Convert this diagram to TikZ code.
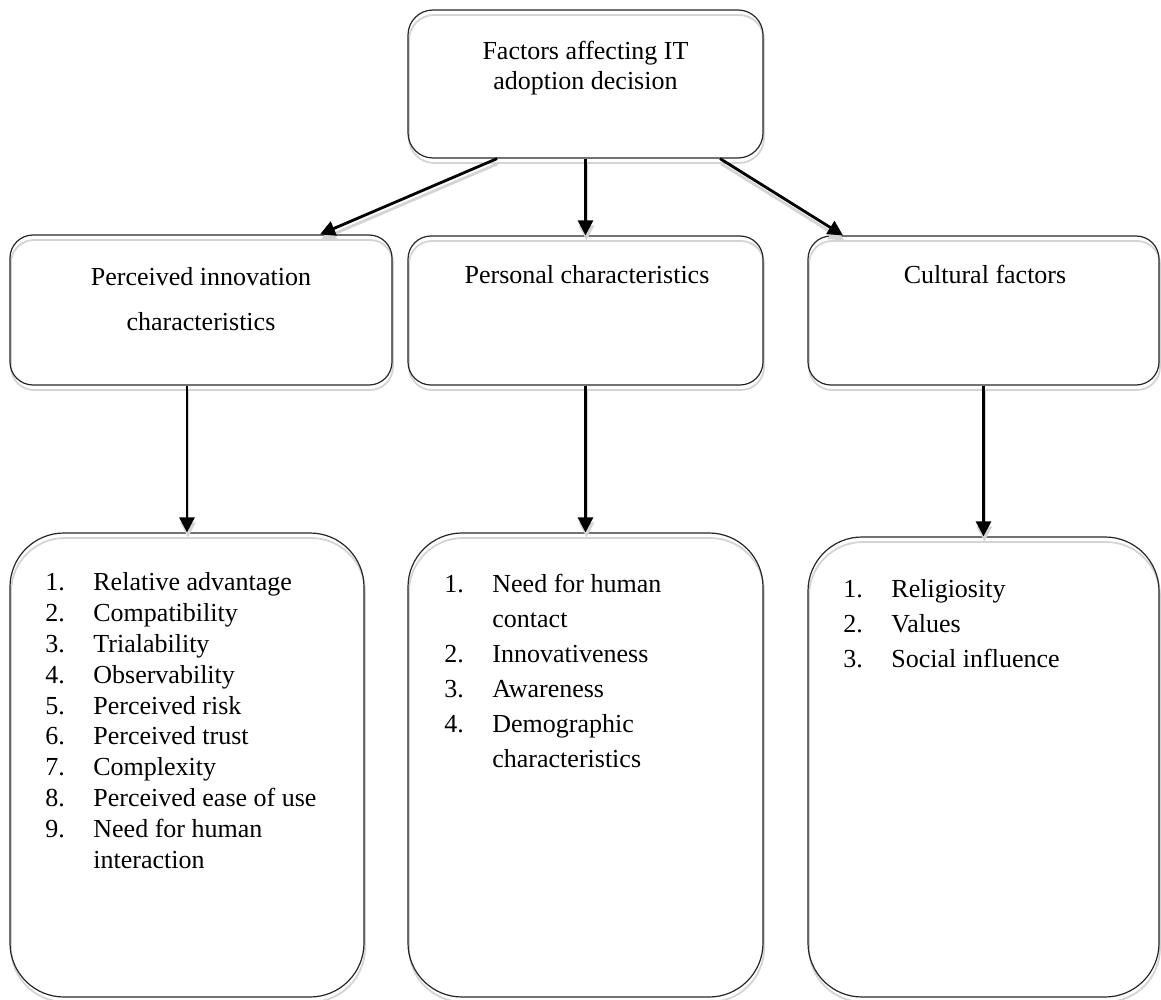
\documentclass[tikz,border=0pt]{standalone}
\usepackage{fontspec}
\setmainfont{Liberation Serif}
\usetikzlibrary{arrows.meta,calc}
\newcommand{\itm}[1]{\makebox[24pt][l]{#1}}
\newcommand{\cont}{\hspace*{24pt}}
\begin{document}
\begin{tikzpicture}[x=0.5pt,y=-0.5pt,
  box/.style={draw=black!85, line width=0.6pt, rounded corners=#1, inner sep=0pt,
    preaction={draw=black!17, line width=0.9pt, transform canvas={shift={(0.5pt,-2.5pt)}}}},
  lbl/.style={inner sep=0pt, align=center, font=\fontsize{13pt}{15.4pt}\selectfont},
  lst/.style={inner sep=0pt, align=left, anchor=base west, font=\fontsize{13pt}{#1}\selectfont},
  arr/.style={line width=1.4pt, -{Triangle[length=7.5pt,width=7.5pt]}},
  arrshadow/.style={draw=black!17, line width=1.4pt, -{Triangle[length=7.5pt,width=7.5pt]},
    transform canvas={shift={(0.5pt,-2.5pt)}}}]
\useasboundingbox (0,0) rectangle (1161,1000);

% boxes
\node[box=12.5pt, minimum width=177.5pt, minimum height=74pt] (top) at (585.5,84) {};
\node[box=11.5pt, minimum width=191pt, minimum height=75pt] (pic) at (201,310) {};
\node[box=11.5pt, minimum width=177.5pt, minimum height=74.5pt] (pers) at (585.5,310.5) {};
\node[box=11.5pt, minimum width=175.5pt, minimum height=74.5pt] (cult) at (983.5,310.5) {};
\node[box=27pt, minimum width=177pt, minimum height=232pt] (picl) at (187,765) {};
\node[box=27pt, minimum width=177.5pt, minimum height=232pt] (persl) at (585.5,765) {};
\node[box=27pt, minimum width=175.5pt, minimum height=230pt] (cultl) at (983.5,767) {};

% box texts (base anchor sits on the last line)
\node[lbl, anchor=base] (toptxt) at (585.5,90) {Factors affecting IT\\adoption decision};
\node[lbl, anchor=base, font=\fontsize{13pt}{22.5pt}\selectfont] (pictxt) at (201,330) {Perceived innovation\\characteristics};
\node[lbl, anchor=base] (perstxt) at (587,284) {Personal characteristics};
\node[lbl, anchor=base] (culttxt) at (985,284) {Cultural factors};

\node[lst=15.4pt] (picltxt) at (45,868) {\itm{1.}Relative advantage\\
  \itm{2.}Compatibility\\
  \itm{3.}Trialability\\
  \itm{4.}Observability\\
  \itm{5.}Perceived risk\\
  \itm{6.}Perceived trust\\
  \itm{7.}Complexity\\
  \itm{8.}Perceived ease of use\\
  \itm{9.}Need for human\\
  \cont interaction};
\node[lst=17.5pt] (persltxt) at (444,767) {\itm{1.}Need for human\\
  \cont contact\\
  \itm{2.}Innovativeness\\
  \itm{3.}Awareness\\
  \itm{4.}Demographic\\
  \cont characteristics};
\node[lst=17.5pt] (cultltxt) at (843,667) {\itm{1.}Religiosity\\
  \itm{2.}Values\\
  \itm{3.}Social influence};

% connector end points
\coordinate (s1) at ($(top.south)+(-88.5,0)$);
\coordinate (e1) at ($(pic.north)+(119,0)$);
\coordinate (s3) at ($(top.south)+(134.5,0)$);
\coordinate (e3) at ($(cult.north)+(-140.5,0)$);
\coordinate (s4) at ($(pic.south)+(-14,0)$);

\foreach \a/\b in {s1/e1, top.south/pers.north, s3/e3, s4/picl.north,
                   pers.south/persl.north, cult.south/cultl.north} {
  \draw[arrshadow] (\a) -- (\b);
  \draw[arr] (\a) -- (\b);
}
\end{tikzpicture}
\end{document}
